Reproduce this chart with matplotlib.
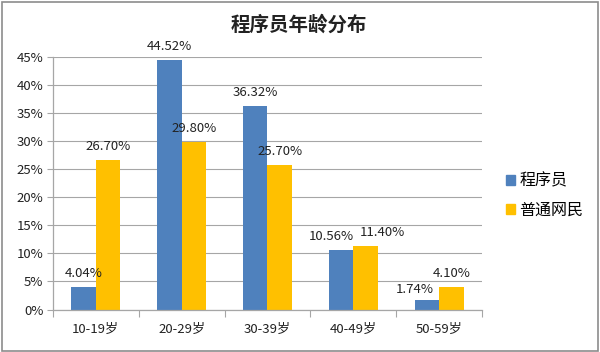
import matplotlib.pyplot as plt
from matplotlib.patches import Patch, Rectangle
import numpy as np

plt.rcParams['font.family'] = ['Noto Sans CJK SC', 'DejaVu Sans']

# 数据
categories = ['10-19岁', '20-29岁', '30-39岁', '40-49岁', '50-59岁']
programmers = [4.04, 44.52, 36.32, 10.56, 1.74]
netizens = [26.70, 29.80, 25.70, 11.40, 4.10]
series_names = ['程序员', '普通网民']
colors = ['#4F81BD', '#FFC000']

# 标签水平微调(点), 避免重叠
nudge_prog = [0, 0, 0, -7, -9]
nudge_net = [0, 0, 0, 12, 0]

fig = plt.figure(figsize=(6, 3.52), dpi=100)
ax = fig.add_axes([0.0883, 0.1207, 0.715, 0.7173])

x = np.arange(len(categories))
w = 0.286
grid_c = '#a6a6a6'

ax.set_axisbelow(True)
ax.grid(axis='y', color=grid_c, linewidth=0.8)

b1 = ax.bar(x - w / 2, programmers, w, color=colors[0], zorder=2)
b2 = ax.bar(x + w / 2, netizens, w, color=colors[1], zorder=2)

# 数值标签
for bars, vals, nudge in [(b1, programmers, nudge_prog), (b2, netizens, nudge_net)]:
    for bar, v, dx in zip(bars, vals, nudge):
        dy = 3 if v < 3 else 5
        ax.annotate(f'{v:.2f}%', (bar.get_x() + bar.get_width() / 2, v),
                    xytext=(dx, dy), textcoords='offset points',
                    ha='center', va='bottom', fontsize=9.5, color='#222222', zorder=3)

ax.set_xlim(-0.5, len(categories) - 0.5)
ax.set_ylim(0, 45)
yt = np.arange(0, 46, 5)
ax.set_yticks(yt)
ax.set_yticklabels([f'{v}%' for v in yt], fontsize=9.5, color='#222222')

# 分类边界刻度 + 中心标签
ax.set_xticks(np.arange(-0.5, len(categories), 1.0))
ax.set_xticklabels([])
ax.set_xticks(x, minor=True)
ax.set_xticklabels(categories, minor=True, fontsize=9.5, color='#222222')
ax.tick_params(axis='x', which='major', length=5, color=grid_c, direction='out')
ax.tick_params(axis='x', which='minor', length=0, pad=10)
ax.tick_params(axis='y', length=4, color=grid_c, pad=3)

for s in ['top', 'right']:
    ax.spines[s].set_visible(False)
for s in ['left', 'bottom']:
    ax.spines[s].set_color(grid_c)
    ax.spines[s].set_linewidth(0.9)

fig.text(0.4975, 0.929, '程序员年龄分布', ha='center', va='center',
         fontsize=14, fontweight='bold', color='#222222')

handles = [Patch(color=c) for c in colors]
fig.legend(handles, series_names, loc='center left', bbox_to_anchor=(0.843, 0.445),
           frameon=False, fontsize=11.5, handlelength=0.55, handleheight=0.55,
           handletextpad=0.3, labelspacing=0.75, borderpad=0, borderaxespad=0)

# 外框
fig.patches.append(Rectangle((0.003, 0.004), 0.993, 0.99, transform=fig.transFigure,
                             fill=False, edgecolor='#8c8c8c', linewidth=1.2))

fig.savefig('out.png', dpi=100)
